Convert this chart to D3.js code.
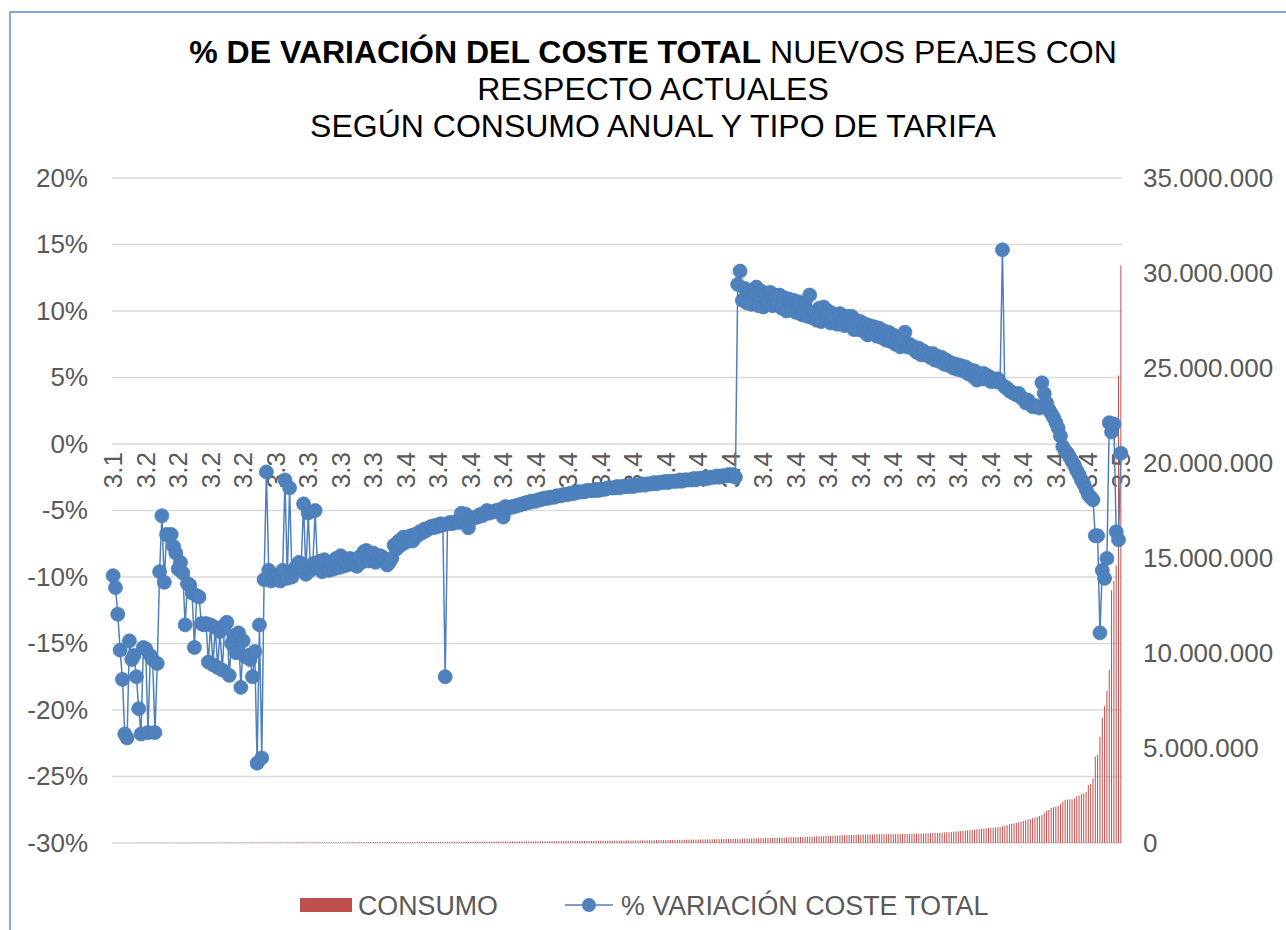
<!DOCTYPE html>
<html>
<head>
<meta charset="utf-8">
<script src="https://cdn.jsdelivr.net/npm/d3@7"></script>
<style>
  body { margin: 0; background: #fff; }
  svg { font-family: "Liberation Sans", Arial, sans-serif; display: block; }
</style>
</head>
<body>
<div id="chart"></div>
<script>
// % variación coste total, one value per supply point (sorted by tariff / consumption)
const pctVariacion = [
  -9.9, -10.8, -12.8, -15.5, -17.7, -21.8, -22.1, -14.8, -16.2, -15.9,
  -17.5, -19.9, -21.8, -15.3, -15.4, -21.7, -15.9, -16.2, -21.7, -16.5,
  -9.6, -5.4, -10.4, -6.8, -6.9, -6.8, -7.7, -8.2, -9.4, -8.9,
  -9.7, -13.6, -10.5, -10.6, -11.2, -15.3, -11.4, -11.5, -13.5, -13.6,
  -13.5, -16.4, -13.6, -16.6, -13.8, -16.8, -14.1, -17.0, -13.6, -13.4,
  -17.4, -15.0, -14.4, -15.7, -14.2, -18.3, -14.8, -16.0, -15.9, -16.2,
  -17.5, -15.6, -24.0, -13.6, -23.6, -10.2, -2.1, -9.5, -10.3, -10.1,
  -10.2, -9.9, -10.3, -9.5, -2.7, -10.1, -3.3, -10.0, -9.4, -9.2,
  -8.9, -9.0, -4.5, -9.8, -5.2, -9.5, -9.0, -5.0, -9.3, -8.8,
  -9.6, -8.7, -9.4, -9.5, -8.9, -9.4, -8.6, -9.3, -8.4, -9.2,
  -8.9, -9.1, -8.6, -9.0, -8.8, -9.2, -8.5, -8.9, -8.1, -8.0,
  -8.8, -8.3, -8.2, -8.9, -8.6, -8.4, -8.5, -8.7, -9.1, -8.9,
  -8.6, -7.6, -7.9, -7.3, -7.6, -7.0, -7.4, -7.1, -6.9, -7.3,
  -6.8, -6.9, -6.6, -6.7, -6.4, -6.5, -6.3, -6.2, -6.3, -6.1,
  -6.2, -6.0, -6.1, -17.5, -6.0, -5.9, -6.0, -5.9, -5.8, -5.9,
  -5.2, -5.8, -5.3, -6.3, -5.7, -5.6, -5.5, -5.5, -5.3, -5.4,
  -5.2, -5.0, -5.2, -5.1, -5.1, -5.0, -5.0, -4.9, -5.5, -4.7,
  -4.8, -4.8, -4.7, -4.7, -4.6, -4.6, -4.5, -4.5, -4.4, -4.4,
  -4.3, -4.3, -4.3, -4.2, -4.2, -4.1, -4.1, -4.1, -4.0, -4.0,
  -4.0, -3.9, -3.9, -3.9, -3.8, -3.8, -3.8, -3.7, -3.7, -3.7,
  -3.6, -3.6, -3.6, -3.6, -3.5, -3.5, -3.5, -3.5, -3.4, -3.5,
  -3.4, -3.4, -3.4, -3.3, -3.3, -3.3, -3.3, -3.2, -3.3, -3.2,
  -3.2, -3.2, -3.2, -3.1, -3.2, -3.1, -3.1, -3.1, -3.0, -3.1,
  -3.0, -3.0, -3.0, -2.9, -3.0, -2.9, -2.9, -2.9, -2.8, -2.9,
  -2.8, -2.8, -2.8, -2.8, -2.7, -2.8, -2.7, -2.7, -2.7, -2.7,
  -2.6, -2.7, -2.6, -2.6, -2.6, -2.5, -2.6, -2.5, -2.5, -2.5,
  -2.4, -2.5, -2.4, -2.4, -2.4, -2.3, -2.4, -2.3, -2.5, 12.0,
  13.0, 10.8, 11.7, 10.6, 11.5, 10.5, 11.4, 11.8, 10.4, 11.5,
  10.3, 11.3, 10.6, 11.4, 10.4, 11.2, 10.5, 11.2, 10.2, 11.0,
  10.0, 10.9, 10.1, 10.8, 9.9, 10.7, 9.8, 9.7, 10.6, 9.6,
  11.2, 9.5, 9.9, 9.3, 10.2, 9.2, 10.3, 9.4, 10.0, 9.1,
  9.8, 9.4, 9.0, 9.8, 9.3, 8.9, 9.6, 9.0, 9.6, 8.6,
  9.3, 8.6, 9.2, 8.5, 9.0, 8.2, 8.9, 8.3, 8.8, 8.1,
  8.7, 8.0, 8.5, 7.8, 8.4, 7.7, 8.2, 7.5, 8.0, 7.3,
  7.9, 8.4, 7.3, 7.5, 7.2, 7.3, 6.9, 7.2, 6.7, 7.0,
  6.7, 6.8, 6.5, 6.8, 6.3, 6.6, 6.2, 6.5, 6.0, 6.3,
  5.9, 6.1, 5.7, 6.0, 5.6, 5.9, 5.5, 5.8, 5.3, 5.6,
  5.1, 5.5, 4.8, 5.3, 4.9, 5.3, 4.9, 5.1, 4.7, 4.9,
  4.7, 4.9, 4.6, 14.6, 4.3, 4.2, 4.0, 3.9, 3.8, 3.7,
  3.8, 3.5, 3.4, 3.1, 3.3, 3.0, 2.8, 2.9, 2.8, 2.7,
  4.6, 3.8, 3.1, 2.6, 2.3, 2.0, 1.6, 1.2, 0.6, -0.2,
  -0.5, -0.7, -1.0, -1.3, -1.6, -2.0, -2.3, -2.7, -3.0, -3.4,
  -3.8, -4.0, -4.2, -6.9, -6.9, -14.2, -9.5, -10.1, -8.6, 1.6,
  0.9, 1.5, -6.6, -7.2, -0.7
];

// consumo anual (miles de kWh), same order as above
const consumoMiles = [
  2, 2, 3, 3, 3, 4, 4, 4, 5, 5, 5, 6, 6, 6, 7, 7, 7, 8, 8, 8,
  9, 9, 9, 10, 10, 10, 11, 11, 11, 12, 12, 12, 13, 13, 13, 14, 14, 14, 15, 15,
  15, 16, 16, 16, 17, 17, 17, 18, 18, 18, 19, 19, 19, 20, 20, 20, 21, 21, 21, 22,
  22, 22, 23, 23, 23, 24, 24, 24, 25, 25, 25, 26, 26, 26, 27, 27, 27, 28, 28, 28,
  29, 29, 29, 30, 30, 30, 31, 31, 31, 32, 32, 32, 33, 33, 33, 34, 34, 34, 35, 35,
  36, 36, 37, 37, 38, 38, 39, 39, 40, 40, 41, 41, 42, 42, 43, 43, 44, 44, 45, 45,
  46, 46, 47, 47, 48, 48, 49, 49, 50, 50, 51, 51, 52, 52, 53, 53, 54, 54, 55, 55,
  56, 57, 57, 58, 59, 59, 60, 61, 61, 62, 63, 63, 64, 65, 65, 66, 67, 67, 68, 69,
  70, 70, 71, 72, 73, 73, 74, 75, 76, 76, 77, 78, 79, 80, 80, 81, 82, 83, 84, 85,
  85, 86, 87, 88, 89, 90, 91, 92, 93, 93, 94, 95, 96, 97, 98, 99, 100, 101, 102, 103,
  104, 105, 106, 107, 108, 109, 110, 112, 113, 114, 115, 116, 117, 119, 120, 121, 122, 124, 125, 126,
  128, 129, 130, 132, 133, 135, 136, 138, 139, 141, 142, 144, 145, 147, 149, 150, 152, 154, 155, 157,
  159, 161, 163, 164, 166, 168, 170, 172, 174, 176, 178, 180, 182, 184, 186, 188, 191, 193, 195, 198,
  200, 202, 205, 207, 210, 212, 215, 217, 220, 223, 226, 228, 231, 234, 237, 240, 243, 246, 249, 252,
  256, 259, 262, 266, 269, 273, 276, 280, 284, 288, 291, 295, 299, 303, 307, 312, 316, 320, 325, 329,
  334, 338, 343, 348, 352, 357, 362, 367, 372, 377, 383, 388, 393, 399, 404, 410, 416, 421, 427, 433,
  436, 439, 442, 445, 447, 450, 452, 455, 457, 459, 461, 463, 465, 466, 467, 468, 469, 470, 471, 472,
  473, 475, 477, 480, 483, 486, 490, 494, 498, 502, 507, 512, 517, 522, 528, 534, 540, 546, 553, 560,
  567, 578, 590, 602, 615, 628, 640, 652, 665, 678, 690, 705, 718, 730, 745, 758, 770, 782, 792, 800,
  812, 830, 850, 880, 910, 945, 980, 1010, 1040, 1065, 1090, 1125, 1160, 1200, 1240, 1265, 1300, 1340, 1380, 1420,
  1470, 1580, 1700, 1740, 1840, 1880, 1900, 1950, 2050, 2200, 2260, 2280, 2300, 2300, 2350, 2470, 2500, 2580, 2600, 2680,
  3050, 3100, 3400, 4550, 4650, 5600, 6600, 7200, 8000, 9100, 13300, 13800, 14600, 24600, 30400
];

// tariff labels shown every 14th point on the category axis
const tarifaTicks = ['3.1', '3.2', '3.2', '3.2', '3.2', '3.3', '3.3', '3.3', '3.3',
  '3.4', '3.4', '3.4', '3.4', '3.4', '3.4', '3.4', '3.4', '3.4', '3.4', '3.4',
  '3.4', '3.4', '3.4', '3.4', '3.4', '3.4', '3.4', '3.4', '3.4', '3.4', '3.4', '3.5'];
const tickEvery = 14;

const pctTicks = [-30, -25, -20, -15, -10, -5, 0, 5, 10, 15, 20];
const consumoTicks = [0, 5000, 10000, 15000, 20000, 25000, 30000, 35000];

const width = 1286;
const height = 930;
const margin = { top: 178, right: 164, bottom: 87, left: 112 };
const innerW = width - margin.left - margin.right;
const innerH = height - margin.top - margin.bottom;

const blue = '#4F81BD';
const red = '#C0504D';
const gray = '#595959';

const svg = d3.select('#chart')
  .append('svg')
  .attr('width', width)
  .attr('height', height);

// chart frame (only top and left edges are visible in the picture)
svg.append('rect')
  .attr('x', 10)
  .attr('y', 12)
  .attr('width', width + 20)
  .attr('height', height + 20)
  .attr('fill', 'none')
  .attr('stroke', '#5B8BC9')
  .attr('stroke-width', 1.5);

// title
const title = svg.append('text')
  .attr('text-anchor', 'middle')
  .attr('font-size', 32)
  .attr('fill', '#000');
const l1 = title.append('tspan').attr('x', 653).attr('y', 63);
l1.append('tspan').attr('font-weight', 'bold').text('% DE VARIACIÓN DEL COSTE TOTAL');
l1.append('tspan').text(' NUEVOS PEAJES CON');
title.append('tspan').attr('x', 653).attr('y', 100).text('RESPECTO ACTUALES');
title.append('tspan').attr('x', 653).attr('y', 137).text('SEGÚN CONSUMO ANUAL Y TIPO DE TARIFA');

// scales
const x = d3.scaleBand()
  .domain(d3.range(pctVariacion.length))
  .range([margin.left, margin.left + innerW]);
const y = d3.scaleLinear()
  .domain([-30, 20])
  .range([margin.top + innerH, margin.top]);
const y2 = d3.scaleLinear()
  .domain([0, 35000])
  .range([margin.top + innerH, margin.top]);

const cx = i => x(i) + x.bandwidth() / 2;

// gridlines
svg.append('g')
  .selectAll('line')
  .data(pctTicks)
  .enter()
  .append('line')
  .attr('x1', margin.left)
  .attr('x2', margin.left + innerW)
  .attr('y1', d => y(d))
  .attr('y2', d => y(d))
  .attr('stroke', '#D9D9D9')
  .attr('stroke-width', 1.5);

// left axis
const yAxis = svg.append('g')
  .attr('transform', `translate(${margin.left},0)`)
  .call(d3.axisLeft(y).tickValues(pctTicks).tickSize(0).tickPadding(24).tickFormat(d => d + '%'));
yAxis.select('.domain').remove();
yAxis.selectAll('text').attr('font-size', 26).attr('fill', gray).attr('font-family', null);

// right axis
const fmtMiles = d3.format(',');
const y2Axis = svg.append('g')
  .attr('transform', `translate(${margin.left + innerW},0)`)
  .call(d3.axisRight(y2).tickValues(consumoTicks).tickSize(0).tickPadding(21)
    .tickFormat(d => fmtMiles(d * 1000).replace(/,/g, '.')));
y2Axis.select('.domain').remove();
y2Axis.selectAll('text').attr('font-size', 26).attr('fill', gray).attr('font-family', null);

// category axis at 0%, labels rotated
const tickIdx = tarifaTicks.map((t, k) => k * tickEvery);
const xAxis = svg.append('g')
  .attr('transform', `translate(0,${y(0)})`)
  .call(d3.axisBottom(x).tickValues(tickIdx).tickSize(0)
    .tickFormat((d, k) => tarifaTicks[k]));
xAxis.select('.domain').remove();
xAxis.selectAll('text')
  .attr('font-size', 26)
  .attr('fill', gray)
  .attr('font-family', null)
  .attr('text-anchor', 'end')
  .attr('transform', 'rotate(-90)')
  .attr('x', -8)
  .attr('y', 0)
  .attr('dy', '0.35em');

// consumo bars (secondary axis)
const barW = 1;
svg.append('g')
  .selectAll('rect')
  .data(consumoMiles)
  .enter()
  .append('rect')
  .attr('x', (d, i) => cx(i) - barW / 2)
  .attr('y', d => y2(d))
  .attr('width', barW)
  .attr('height', d => y2(0) - y2(d))
  .attr('fill', red);

// % variación line + markers
const line = d3.line()
  .x((d, i) => cx(i))
  .y(d => y(d));
svg.append('path')
  .datum(pctVariacion)
  .attr('d', line)
  .attr('fill', 'none')
  .attr('stroke', blue)
  .attr('stroke-width', 1.5);

svg.append('g')
  .selectAll('circle')
  .data(pctVariacion)
  .enter()
  .append('circle')
  .attr('cx', (d, i) => cx(i))
  .attr('cy', d => y(d))
  .attr('r', 7)
  .attr('fill', blue)
  .attr('stroke', '#4A7EBB')
  .attr('stroke-width', 0.75);

// legend
const legend = svg.append('g').attr('font-size', 26.8).attr('fill', gray);
legend.append('rect')
  .attr('x', 300).attr('y', 898).attr('width', 52).attr('height', 14)
  .attr('fill', red);
legend.append('text').attr('x', 358).attr('y', 915).text('CONSUMO');
legend.append('line')
  .attr('x1', 565).attr('x2', 613).attr('y1', 905).attr('y2', 905)
  .attr('stroke', blue).attr('stroke-width', 1.5);
legend.append('circle')
  .attr('cx', 589).attr('cy', 905).attr('r', 7)
  .attr('fill', blue);
legend.append('text').attr('x', 621).attr('y', 915).text('% VARIACIÓN COSTE TOTAL');
</script>
</body>
</html>
